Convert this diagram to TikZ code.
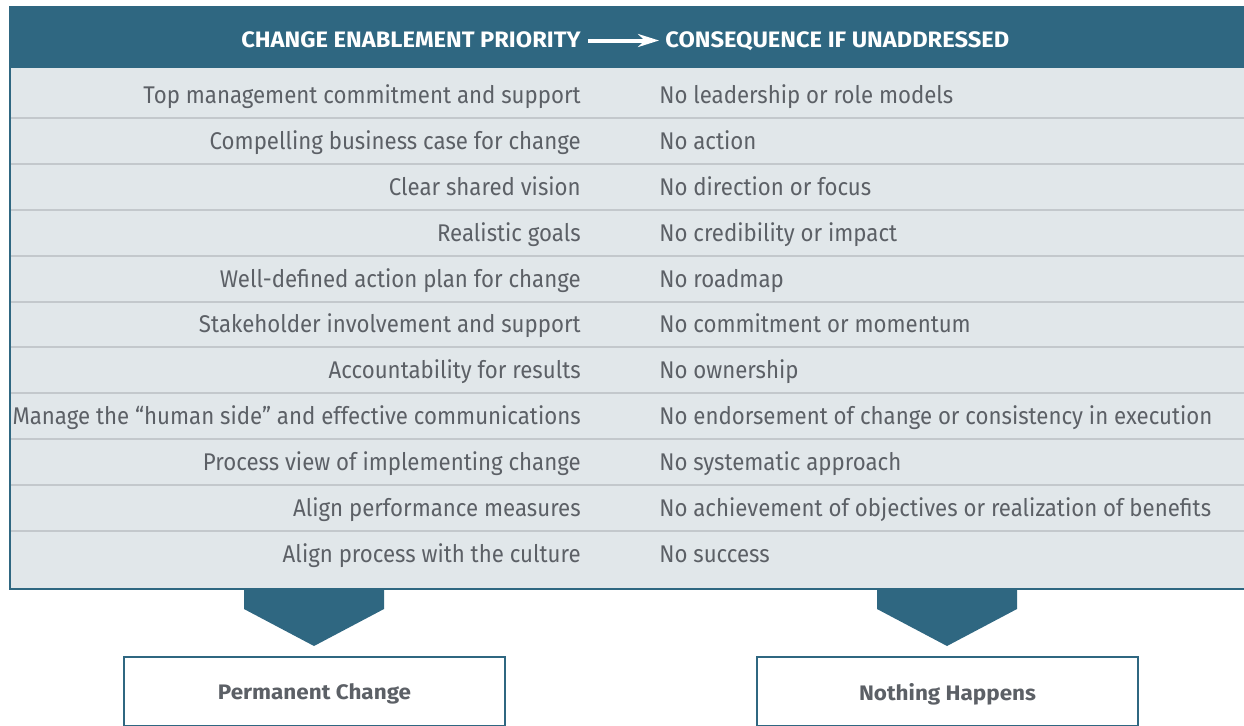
\documentclass[tikz,border=0pt]{standalone}
\usepackage{fontspec}
\setmainfont{Fira Sans}
\newfontfamily\rowfont{Fira Sans}[FakeStretch=0.92]
\newfontfamily\headfont{Fira Sans}[FakeStretch=1.06]
\newfontfamily\boxfont{Fira Sans}[FakeStretch=1.07]
\usetikzlibrary{arrows.meta}
\usetikzlibrary{positioning}
\definecolor{headblue}{HTML}{2F6781}
\definecolor{bodygray}{HTML}{E1E7EA}
\definecolor{rulegray}{HTML}{C3C8CC}
\definecolor{textgray}{HTML}{5C6066}
\tikzstyle{prio} = [anchor=base east, inner sep=0pt, text=textgray, font=\rowfont\fontsize{14.5}{16}\selectfont]
\tikzstyle{cons} = [anchor=base west, inner sep=0pt, text=textgray, font=\rowfont\fontsize{14.5}{16}\selectfont]
\tikzstyle{head} = [inner sep=0pt, text=white, font=\headfont\bfseries\fontsize{13.4}{15}\selectfont]
\tikzstyle{sep} = [draw=rulegray, line width=0.9pt]
\tikzstyle{chev} = [fill=headblue]
\tikzstyle{result} = [draw=headblue, line width=1.2pt, fill=white, minimum width=228.6pt,
    minimum height=41.4pt, text depth=0pt, text=textgray, font=\boxfont\bfseries\fontsize{12.6}{14}\selectfont]

\begin{document}
\begin{tikzpicture}[x=0.6pt, y=-0.6pt, >={Stealth[length=12.6pt, width=7.8pt]}]
    \useasboundingbox (0,0) rectangle (1244,725);
    % table
    \fill [headblue] (8.5,6) rectangle (1244,68);
    \fill [bodygray] (9,68) rectangle (1244,589);
    \draw [sep] (10,118) -- (1244,118);
    \draw [sep] (10,164) -- (1244,164);
    \draw [sep] (10,210) -- (1244,210);
    \draw [sep] (10,256) -- (1244,256);
    \draw [sep] (10,302) -- (1244,302);
    \draw [sep] (10,347) -- (1244,347);
    \draw [sep] (10,393) -- (1244,393);
    \draw [sep] (10,439) -- (1244,439);
    \draw [sep] (10,485) -- (1244,485);
    \draw [sep] (10,531) -- (1244,531);
    \draw [headblue, line width=1.4pt] (10,68) -- (10,589) -- (1244,589);
    % header
    \node [head, anchor=base east] at (581,47.3) (prioHead) {CHANGE ENABLEMENT PRIORITY};
    \node [head, anchor=base west] at (665,47.3) (consHead) {CONSEQUENCE IF UNADDRESSED};
    \coordinate (arrFrom) at (588,40.5);
    \coordinate (arrTo) at (659,40.5);
    \draw [->, white, line width=2.4pt] (arrFrom) -- (arrTo);
    % rows
    \node [prio] at (581,103.5) (p1) {Top management commitment and support};
    \node [cons] at (659,103.5) (c1) {No leadership or role models};
    \node [prio] at (581,149.5) (p2) {Compelling business case for change};
    \node [cons] at (659,149.5) (c2) {No action};
    \node [prio] at (581,195.5) (p3) {Clear shared vision};
    \node [cons] at (659,195.5) (c3) {No direction or focus};
    \node [prio] at (581,241.5) (p4) {Realistic goals};
    \node [cons] at (659,241.5) (c4) {No credibility or impact};
    \node [prio] at (581,287.5) (p5) {Well-defined action plan for change};
    \node [cons] at (659,287.5) (c5) {No roadmap};
    \node [prio] at (581,332.5) (p6) {Stakeholder involvement and support};
    \node [cons] at (659,332.5) (c6) {No commitment or momentum};
    \node [prio] at (581,378.5) (p7) {Accountability for results};
    \node [cons] at (659,378.5) (c7) {No ownership};
    \node [prio] at (581,424.5) (p8) {Manage the “human side” and effective communications};
    \node [cons] at (659,424.5) (c8) {No endorsement of change or consistency in execution};
    \node [prio] at (581,470.5) (p9) {Process view of implementing change};
    \node [cons] at (659,470.5) (c9) {No systematic approach};
    \node [prio] at (581,516.5) (p10) {Align performance measures};
    \node [cons] at (659,516.5) (c10) {No achievement of objectives or realization of benefits};
    \node [prio] at (581,562.5) (p11) {Align process with the culture};
    \node [cons] at (659,562.5) (c11) {No success};
    % outcomes
    \fill [chev] (244,590) -- (384,590) -- (384,609) -- (314,646) -- (244,609) -- cycle;
    \fill [chev] (877,590) -- (1017,590) -- (1017,609) -- (947,646) -- (877,609) -- cycle;
    \node [result] at (314.5,691.5) (perm) {Permanent Change};
    \node [result] at (947.5,691.5) (nothing) {Nothing Happens};
\end{tikzpicture}
\end{document}
